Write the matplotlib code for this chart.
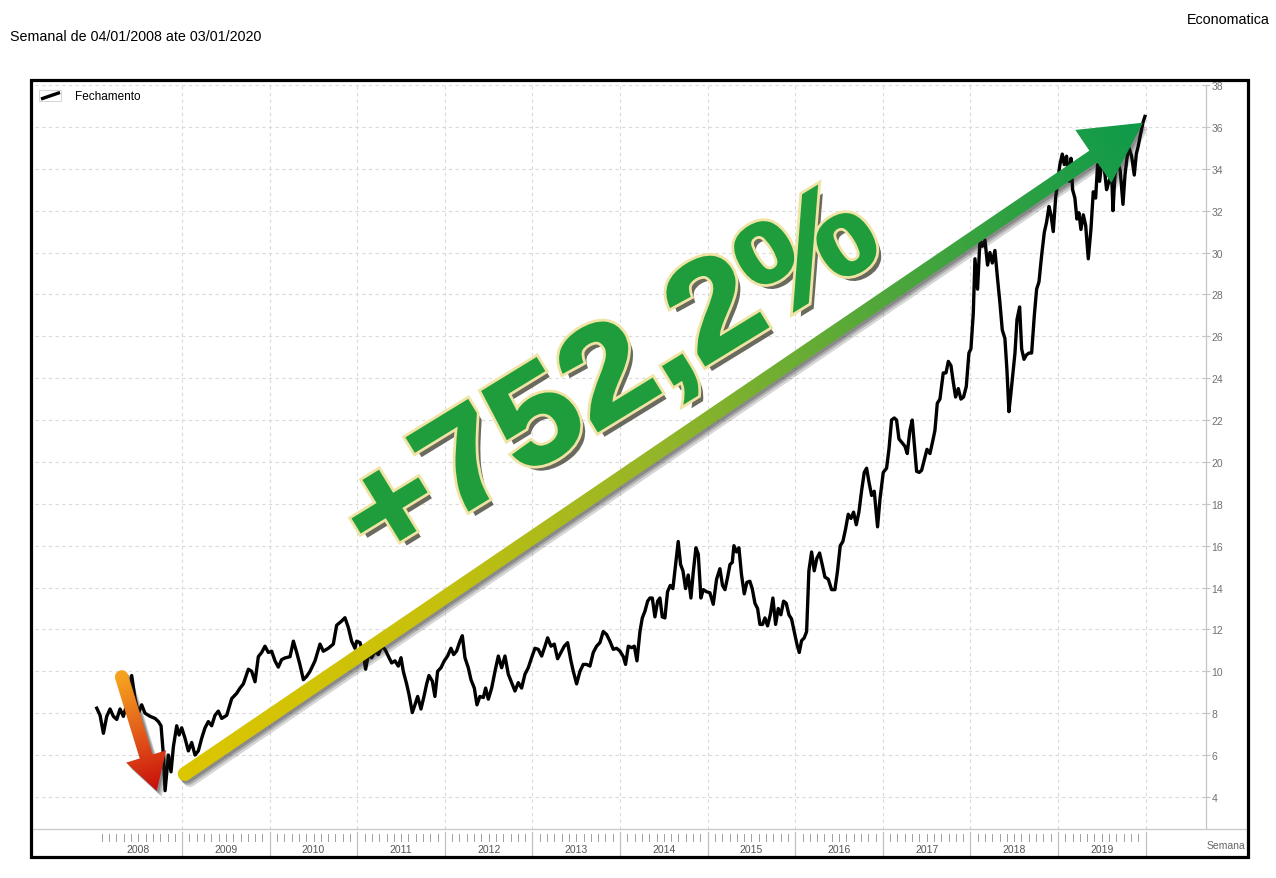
import numpy as np
import matplotlib
matplotlib.use('Agg')
import matplotlib.pyplot as plt
from matplotlib.patches import Polygon, Rectangle, PathPatch
from matplotlib.colors import LinearSegmentedColormap
from matplotlib.textpath import TextPath
from matplotlib.font_manager import FontProperties
from matplotlib.transforms import Affine2D
import matplotlib.patheffects as pe

plt.rcParams['font.family'] = ['Liberation Sans', 'DejaVu Sans']

# ---------------- data (years after 2008-01-01, closing price) ----------------
t_2008_2010 = [0.025, 0.063, 0.101, 0.139, 0.177, 0.215, 0.253, 0.291, 0.329, 0.386,
               0.424, 0.462, 0.500, 0.538, 0.576, 0.634, 0.691, 0.729, 0.759, 0.786,
               0.805, 0.843, 0.873, 0.900, 0.938, 0.965, 0.995, 1.033, 1.071, 1.109,
               1.147, 1.185, 1.223, 1.261, 1.299, 1.337, 1.375, 1.413, 1.452, 1.509,
               1.566, 1.623, 1.661, 1.699, 1.756, 1.794, 1.832, 1.870, 1.908, 1.946,
               1.984, 2.022, 2.060, 2.098, 2.136, 2.175, 2.232, 2.270, 2.308, 2.346,
               2.384, 2.422, 2.460, 2.517, 2.574, 2.612, 2.669, 2.726, 2.764, 2.821,
               2.859, 2.897, 2.935, 2.973]
v_2008_2010 = [8.24, 7.9, 7.04, 7.85, 8.2, 7.85, 7.7, 8.2, 7.85, 8.7,
               9.8, 8.7, 8.0, 8.4, 8.0, 7.85, 7.75, 7.6, 7.4, 6.0,
               4.3, 6.0, 5.2, 6.4, 7.4, 6.96, 7.3, 6.8, 6.2, 6.6,
               6.0, 6.2, 6.8, 7.3, 7.6, 7.4, 7.9, 8.1, 7.75, 7.9,
               8.7, 8.95, 9.2, 9.4, 10.1, 10.0, 9.5, 10.7, 10.9, 11.2,
               10.9, 10.96, 10.5, 10.2, 10.56, 10.64, 10.7, 11.44, 10.9, 10.3,
               9.6, 9.76, 10.0, 10.5, 11.3, 10.96, 11.1, 11.3, 12.2, 12.4,
               12.56, 12.1, 11.44, 11.1]

t_2011_2013 = [2.993, 3.031, 3.069, 3.095, 3.126, 3.164, 3.202, 3.240, 3.278, 3.316,
               3.354, 3.392, 3.430, 3.468, 3.499, 3.525, 3.563, 3.590, 3.628, 3.658,
               3.689, 3.727, 3.761, 3.792, 3.818, 3.856, 3.886, 3.917, 3.955, 3.993,
               4.031, 4.069, 4.100, 4.134, 4.172, 4.199, 4.229, 4.267, 4.298, 4.336,
               4.366, 4.400, 4.439, 4.465, 4.496, 4.534, 4.572, 4.610, 4.648, 4.686,
               4.724, 4.762, 4.800, 4.838, 4.876, 4.914, 4.952, 4.990, 5.028, 5.066,
               5.105, 5.143, 5.173, 5.211, 5.249, 5.287, 5.325, 5.363, 5.401, 5.439,
               5.466, 5.504, 5.542, 5.580, 5.618, 5.656, 5.694, 5.732, 5.770, 5.808,
               5.846, 5.884, 5.922, 5.960, 5.998]
v_2011_2013 = [11.44, 11.37, 10.8, 10.1, 10.8, 10.65, 10.97, 10.8, 11.2, 11.05,
               10.73, 10.4, 10.5, 10.25, 10.65, 10.0, 9.4, 8.9, 8.03, 8.4,
               8.8, 8.2, 8.8, 9.4, 9.8, 9.54, 8.8, 10.0, 10.17, 10.5,
               10.73, 11.1, 10.8, 10.97, 11.44, 11.7, 10.65, 10.17, 9.6, 9.2,
               8.4, 8.8, 8.75, 9.2, 8.67, 9.2, 10.0, 10.73, 10.17, 10.73,
               9.86, 9.46, 9.06, 9.46, 9.2, 9.86, 10.17, 10.65, 11.1, 11.05,
               10.73, 11.2, 11.6, 11.2, 11.3, 10.6, 10.9, 11.2, 11.37, 10.5,
               10.0, 9.4, 10.0, 10.33, 10.33, 10.25, 10.9, 11.2, 11.37, 11.9,
               11.76, 11.44, 11.05, 11.1, 10.97]

t_2014_2016 = [6.037, 6.063, 6.094, 6.132, 6.163, 6.193, 6.227, 6.254, 6.284, 6.315,
               6.341, 6.368, 6.398, 6.429, 6.455, 6.482, 6.512, 6.542, 6.573, 6.603,
               6.634, 6.664, 6.691, 6.718, 6.748, 6.778, 6.809, 6.835, 6.866, 6.893,
               6.923, 6.950, 6.988, 7.026, 7.064, 7.102, 7.140, 7.170, 7.198, 7.228,
               7.255, 7.281, 7.300, 7.330, 7.357, 7.387, 7.418, 7.448, 7.482, 7.509,
               7.540, 7.570, 7.597, 7.627, 7.654, 7.684, 7.715, 7.745, 7.776, 7.806,
               7.836, 7.867, 7.897, 7.928, 7.958, 7.989, 8.019, 8.046, 8.072, 8.103,
               8.130, 8.156, 8.187, 8.217, 8.247, 8.278, 8.308, 8.339, 8.377, 8.415,
               8.453, 8.483, 8.514, 8.544, 8.575, 8.605, 8.636, 8.666, 8.697, 8.727,
               8.757, 8.788, 8.815, 8.841, 8.872, 8.902]
v_2014_2016 = [10.7, 10.33, 11.2, 11.13, 11.2, 10.5, 11.9, 12.55, 12.87, 13.35,
               13.5, 13.5, 12.6, 13.35, 13.5, 12.6, 12.55, 13.8, 14.1, 13.95,
               15.1, 16.2, 15.1, 14.8, 13.95, 14.6, 13.5, 14.7, 15.9, 15.6,
               13.5, 13.9, 13.8, 13.75, 13.2, 14.4, 14.9, 14.1, 13.9, 14.5,
               15.1, 15.2, 16.0, 15.7, 15.9, 14.6, 13.7, 14.25, 14.3, 13.95,
               13.25, 13.0, 12.24, 12.24, 12.55, 12.17, 12.7, 13.5, 12.24, 13.0,
               12.7, 13.35, 13.25, 12.7, 12.5, 11.9, 11.3, 10.9, 11.46, 11.6,
               11.9, 14.8, 15.7, 14.8, 15.4, 15.65, 15.1, 14.5, 14.4, 13.9,
               13.9, 14.8, 16.0, 16.2, 16.8, 17.5, 17.3, 17.6, 17.0, 17.6,
               18.6, 19.5, 19.7, 19.06, 18.4, 18.6]

t_2017_2019 = [8.940, 8.967, 9.005, 9.043, 9.070, 9.100, 9.131, 9.157, 9.184, 9.222,
               9.252, 9.279, 9.309, 9.336, 9.359, 9.386, 9.416, 9.443, 9.473, 9.504,
               9.538, 9.565, 9.595, 9.622, 9.652, 9.690, 9.721, 9.748, 9.778, 9.805,
               9.831, 9.862, 9.892, 9.922, 9.953, 9.983, 10.006, 10.033, 10.052, 10.082,
               10.109, 10.136, 10.166, 10.196, 10.223, 10.250, 10.280, 10.311, 10.337, 10.364,
               10.394, 10.417, 10.440, 10.463, 10.486, 10.509, 10.532, 10.562, 10.585, 10.612,
               10.638, 10.669, 10.699, 10.730, 10.756, 10.783, 10.813, 10.844, 10.870, 10.897,
               10.920, 10.946, 10.973, 10.996, 11.022, 11.049, 11.072, 11.098, 11.125, 11.148,
               11.167, 11.193, 11.216, 11.239, 11.262, 11.289, 11.316, 11.346, 11.376, 11.403,
               11.430, 11.452, 11.475, 11.498, 11.529, 11.555, 11.582, 11.612, 11.628, 11.650,
               11.681, 11.711, 11.742, 11.765, 11.787, 11.810, 11.841, 11.871, 11.894, 11.917,
               11.940, 11.970, 11.993]
v_2017_2019 = [16.9, 18.2, 19.5, 19.7, 20.6, 22.0, 22.1, 22.0, 21.1, 20.9,
               20.75, 20.4, 21.5, 22.0, 20.9, 19.55, 19.5, 19.6, 20.1, 20.6,
               20.4, 20.9, 21.5, 22.8, 23.0, 24.25, 24.25, 24.8, 24.6, 23.8,
               23.1, 23.5, 23.0, 23.1, 23.6, 25.2, 25.4, 27.1, 29.7, 28.25,
               30.6, 30.3, 30.6, 29.4, 30.0, 29.5, 30.1, 28.7, 27.6, 26.3,
               25.9, 24.4, 22.4, 23.3, 24.26, 25.2, 26.8, 27.4, 25.4, 24.9,
               25.1, 25.2, 25.2, 27.0, 28.25, 28.6, 29.85, 30.97, 31.45, 32.2,
               31.8, 31.0, 32.6, 33.4, 34.2, 34.7, 34.2, 34.6, 33.4, 34.5,
               33.0, 32.6, 31.6, 31.9, 31.1, 31.8, 31.3, 29.7, 31.1, 32.9,
               32.6, 34.2, 33.4, 34.2, 34.0, 33.0, 33.4, 33.8, 32.0, 33.7,
               34.3, 33.9, 32.3, 33.7, 34.5, 35.0, 34.6, 33.7, 34.7, 35.1,
               35.6, 36.2, 36.5]

base_year = 2008
years = list(range(2008, 2020))
y_ticks = list(range(4, 39, 2))

title_text = "Semanal de 04/01/2008 ate 03/01/2020"
source_text = "Economatica"
legend_label = "Fechamento"
x_label = "Semana"
gain_label = "+752,2%"

t = base_year + np.array(t_2008_2010 + t_2011_2013 + t_2014_2016 + t_2017_2019)
v = np.array(v_2008_2010 + v_2011_2013 + v_2014_2016 + v_2017_2019)

# ---------------- figure ----------------
W, H = 1276, 879
fig = plt.figure(figsize=(W / 100, H / 100), dpi=100)
fig.patch.set_facecolor('white')

ax = fig.add_axes([35 / W, 1 - 830 / H, (1206 - 35) / W, (830 - 86) / H])
ax.plot(t, v, color='black', lw=2.4, zorder=3, solid_joinstyle='round')
ax.set_xlim(2007.32, 2020.69)
ax.set_ylim(2.47, 38)
for s in ['left', 'top', 'bottom']:
    ax.spines[s].set_visible(False)
ax.spines['right'].set_color('#c4c4c4')
ax.spines['right'].set_linewidth(0.9)
ax.yaxis.tick_right()
ax.set_yticks(y_ticks)
ax.tick_params(axis='y', direction='inout', length=6, width=0.8, colors='#c4c4c4',
               labelcolor='#707070', labelsize=7.5, pad=1)
ax.set_xticks([])
for yv in y_ticks:
    ax.axhline(yv, color='#dadada', lw=0.8, ls=(0, (3, 3)), zorder=1)
for yr in range(2009, 2021):
    ax.axvline(yr, color='#dadada', lw=0.8, ls=(0, (3, 3)), zorder=1)

# ---------------- overlay in pixel coordinates ----------------
ov = fig.add_axes([0, 0, 1, 1], zorder=5)
ov.patch.set_alpha(0)
ov.axis('off')


def to_px(x, y):
    X, Y = ax.transData.transform((x, y))
    return np.array([X, H - Y])


def arrow_poly(p0, p1, w, hl, hw, ncap=20):
    d = p1 - p0
    d = d / np.hypot(*d)
    n = np.array([-d[1], d[0]])
    b = p1 - d * hl
    pts = [b + n * w / 2, b + n * hw, p1, b - n * hw, b - n * w / 2, p0 - n * w / 2]
    for a in np.linspace(0, np.pi, ncap):
        pts.append(p0 + (-n * np.cos(a) - d * np.sin(a)) * w / 2)
    return np.array(pts)


def grad_arrow(p0, p1, w, hl, hw, colors, z):
    poly = arrow_poly(p0, p1, w, hl, hw)
    for off, al in [((5, 6), 0.18), ((3.5, 4), 0.22), ((2, 2.5), 0.25)]:
        ov.add_patch(Polygon(poly + np.array(off), closed=True, fc='#202020',
                             ec='none', alpha=al, zorder=z - 1))
    patch = Polygon(poly, closed=True, fc='none', ec='none', zorder=z)
    ov.add_patch(patch)
    xmin, ymin = poly.min(0) - 2
    xmax, ymax = poly.max(0) + 2
    nx, ny = int(xmax - xmin) + 1, int(ymax - ymin) + 1
    X, Y = np.meshgrid(np.linspace(xmin, xmax, nx), np.linspace(ymin, ymax, ny))
    d = p1 - p0
    s = np.clip(((X - p0[0]) * d[0] + (Y - p0[1]) * d[1]) / (d @ d), 0, 1)
    cmap = LinearSegmentedColormap.from_list('g', colors)
    img = ov.imshow(s, cmap=cmap, vmin=0, vmax=1, extent=(xmin, xmax, ymax, ymin),
                    origin='upper', zorder=z, interpolation='bilinear', aspect='auto')
    img.set_clip_path(patch)


# decorative arrows (data coordinates of start / tip)
red_p0, red_p1 = to_px(2008.31, 9.73), to_px(2008.71, 4.29)
grn_p0, grn_p1 = to_px(2009.03, 5.1), to_px(2019.97, 36.2)
grad_arrow(red_p0, red_p1, 13.5, 36, 21, ['#f5a21f', '#e25a1a', '#c80c0c'], 4)
grad_arrow(grn_p0, grn_p1, 14, 60, 32, ['#dcc600', '#c8c10c', '#93b52a', '#4aa63c', '#0e9a4a'], 4)

# big percentage label (wide heavy lettering, rotated along the arrow)
fp = FontProperties(family='Liberation Sans', weight='bold')
tp = TextPath((0, 0), gain_label, size=136, prop=fp)
ext = tp.get_extents()
cx, cy = to_px(2013.92, 24.0)
tr = (Affine2D().translate(-(ext.x0 + ext.x1) / 2, -(ext.y0 + ext.y1) / 2)
      .scale(1.11, -1.0).rotate_deg(-31.5).translate(cx, cy))
txt = PathPatch(tr.transform_path(tp), fc='#1f9c3b', ec='none', zorder=8,
                path_effects=[pe.SimplePatchShadow(offset=(4.5, -4.5), shadow_rgbFace='#2b2b1a', alpha=0.7),
                              pe.Stroke(linewidth=6, foreground='#efe4a4'),
                              pe.Stroke(linewidth=2, foreground='#1f9c3b'), pe.Normal()])
ov.add_patch(txt)

# bottom time axis
ov.plot([33, 1246], [830.5, 830.5], color='#c8c8c8', lw=0.9, zorder=2)
for yr in range(2009, 2021):
    x = to_px(yr, 0)[0]
    ov.plot([x, x], [833, 857], color='#c0c0c0', lw=0.9, zorder=2)
for yr in years:
    for m in range(1, 12):
        x = to_px(yr + m / 12, 0)[0]
        ov.plot([x, x], [835, 842], color='#a0a0a0', lw=0.7, zorder=2)
    ov.text(to_px(yr + 0.5, 0)[0], 850, str(yr), ha='center', va='center',
            fontsize=7.5, color='#555555', zorder=2)
ov.text(1245, 846, x_label, ha='right', va='center', fontsize=7.5, color='#666666', zorder=2)

# legend
ov.add_patch(Rectangle((39, 91), 22, 11, fill=False, ec='#d0d0d0', lw=0.6, zorder=6))
ov.plot([41, 60], [100, 93.5], color='black', lw=2.4, solid_capstyle='butt', zorder=6)
ov.text(75, 97, legend_label, ha='left', va='center', fontsize=8.5, color='black', zorder=6)

# header
ov.text(10, 37, title_text, ha='left', va='center', fontsize=10.3, color='black')
ov.text(1270, 20, source_text, ha='right', va='center', fontsize=10.3, color='black')

# frame
ov.add_patch(Rectangle((31, 81), 1217, 777, fill=False, ec='black', lw=2.3, zorder=10))

ov.set_xlim(0, W)
ov.set_ylim(H, 0)

fig.savefig('out.png', dpi=100, facecolor='white')
